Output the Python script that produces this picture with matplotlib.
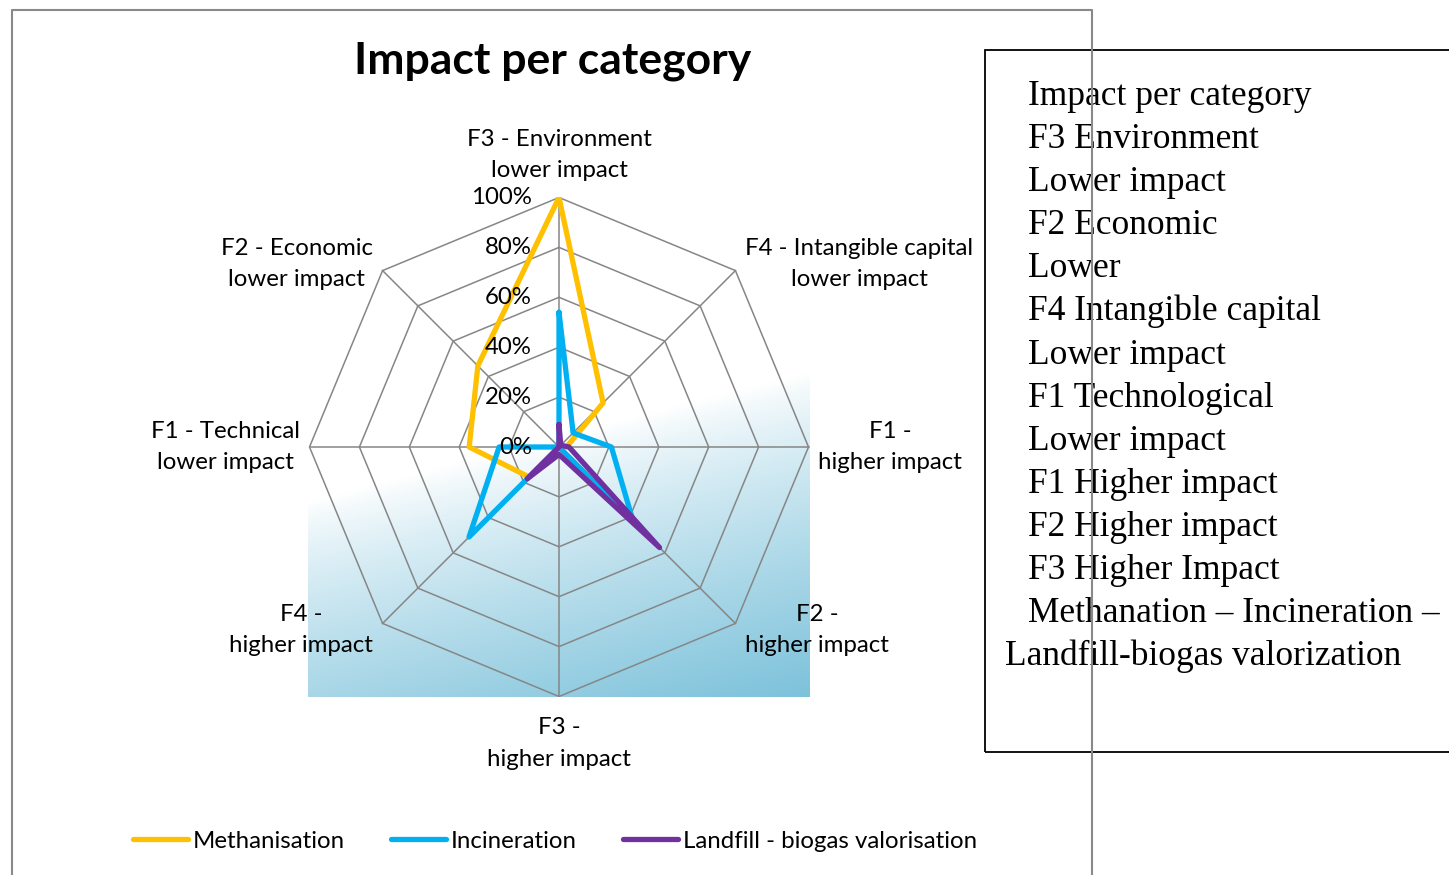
import numpy as np
import matplotlib
matplotlib.use('Agg')
import matplotlib.pyplot as plt
from matplotlib.lines import Line2D
from matplotlib.patches import Rectangle

# data, clockwise from the top spoke
categories = ["F3 - Environment\nlower impact", "F4 - Intangible capital\nlower impact",
              "F1 -\nhigher impact", "F2 -\nhigher impact", "F3 -\nhigher impact",
              "F4 -\nhigher impact", "F1 - Technical\nlower impact", "F2 - Economic\nlower impact"]
methanisation = [100, 25, 3, 0, 0, 17, 36, 46]
incineration = [54, 8, 21, 42, 0, 51, 24, 0]
landfill = [9, 1, 4, 57, 3, 18, 0, 0]
series_names = ["Methanisation", "Incineration", "Landfill - biogas valorisation"]
ring_values = [0, 20, 40, 60, 80, 100]
tick_labels = ["0%", "20%", "40%", "60%", "80%", "100%"]
box_lines = ["Impact per category", "F3 Environment", "Lower impact", "F2 Economic", "Lower",
             "F4 Intangible capital", "Lower impact", "F1 Technological", "Lower impact",
             "F1 Higher impact", "F2 Higher impact", "F3 Higher Impact",
             "Methanation \u2013 Incineration \u2013", "Landfill-biogas valorization"]

colors = ['#FFC000', '#00B0F0', '#7030A0']
grid_col = '#868686'
FONT = 'Lato'
FS = 17.3

W, H = 1449, 875
fig = plt.figure(figsize=(W / 100, H / 100), dpi=100)

def fx(px):
    return px / W

def fy(py):
    return 1 - py / H

# plot area in pixels: x 308..810, y 197..697, centre (559, 447), radius 249.5 px
scale = 2.495
ax = fig.add_axes([fx(308), fy(697), (810 - 308) / W, (697 - 197) / H])
xl = 251 / scale
yl = 250 / scale
ax.set_xlim(-xl, xl)
ax.set_ylim(-yl, yl)
ax.axis('off')

# gradient background of the plot area
xs = np.linspace(308, 810, 502)
ys = np.linspace(197, 697, 500)
X, Y = np.meshgrid(xs, ys)
t = (X * 130 + Y * 502) / np.hypot(130, 502)
f = np.clip((t - 564) / (877.7 - 564), 0, 1) ** 0.8
blue = np.array([125, 194, 219]) / 255
img = (1 - f[..., None]) * 1.0 + f[..., None] * blue
ax.imshow(img, extent=(-xl, xl, -yl, yl), origin='upper', aspect='auto', zorder=0)

n = len(categories)
ang = np.pi / 2 - np.arange(n) * 2 * np.pi / n
ca, sa = np.cos(ang), np.sin(ang)

# octagon grid
for r in ring_values[1:]:
    ax.plot(np.append(r * ca, r * ca[0]), np.append(r * sa, r * sa[0]),
            color=grid_col, lw=1.1, zorder=1)
for i in range(n):
    ax.plot([0, 100 * ca[i]], [0, 100 * sa[i]], color=grid_col, lw=1.1, zorder=1)

# series
for vals, col in zip([methanisation, incineration, landfill], colors):
    v = np.array(vals, dtype=float)
    ax.plot(np.append(v * ca, v[0] * ca[0]), np.append(v * sa, v[0] * sa[0]),
            color=col, lw=3.8, solid_joinstyle='round', solid_capstyle='round', zorder=3)

# radial tick labels
for r, lab in zip(ring_values, tick_labels):
    ax.text(-27 / scale, r, lab, ha='right', va='center', fontsize=FS,
            family=FONT, zorder=5)

# category labels
for i, lab in enumerate(categories):
    vx, vy = 100 * ca[i], 100 * sa[i]
    if ca[i] > 0.1:
        ha, dx = 'left', 7
    elif ca[i] < -0.1:
        ha, dx = 'right', -7
    else:
        ha, dx = 'center', 0
    if abs(ca[i]) <= 0.1:
        va = 'bottom' if sa[i] > 0 else 'top'
        dy = 12 if sa[i] > 0 else -15
    else:
        va = 'center'
        dy = 5 * np.sign(round(sa[i], 3))
    ax.annotate(lab, xy=(vx, vy), xytext=(dx, dy), textcoords='offset points',
                ha=ha, va=va, multialignment='center', fontsize=FS, family=FONT,
                linespacing=1.6, annotation_clip=False)

fig.text(fx(553), fy(61), "Impact per category", ha='center', va='center',
         fontsize=32, fontweight='bold', family=FONT)

handles = [Line2D([], [], color=c, lw=3.8, solid_capstyle='round') for c in colors]
fig.legend(handles, series_names, loc='center', bbox_to_anchor=(fx(555), fy(841)),
           ncol=3, frameon=False, prop={'family': FONT, 'size': FS},
           handlelength=2.3, handletextpad=0.2, columnspacing=1.9)

# text box on the right
fig.patches.append(Rectangle((fx(985), fy(752)), fx(1470) - fx(985), fy(50) - fy(752),
                             transform=fig.transFigure, fill=False, ec='black', lw=1.3,
                             zorder=2))
for i, line in enumerate(box_lines):
    x0 = 1005 if i == len(box_lines) - 1 else 1028
    fig.text(fx(x0), fy(105 + i * 43.1), line, ha='left', va='baseline',
             fontsize=25.5, family='Liberation Serif', zorder=3)

# chart frame
fig.add_artist(Line2D([fx(12), fx(12), fx(1092), fx(1092)],
                      [fy(880), fy(10), fy(10), fy(880)],
                      transform=fig.transFigure, color='#898989', lw=1.5, zorder=10))

fig.savefig('out.png', dpi=100)
